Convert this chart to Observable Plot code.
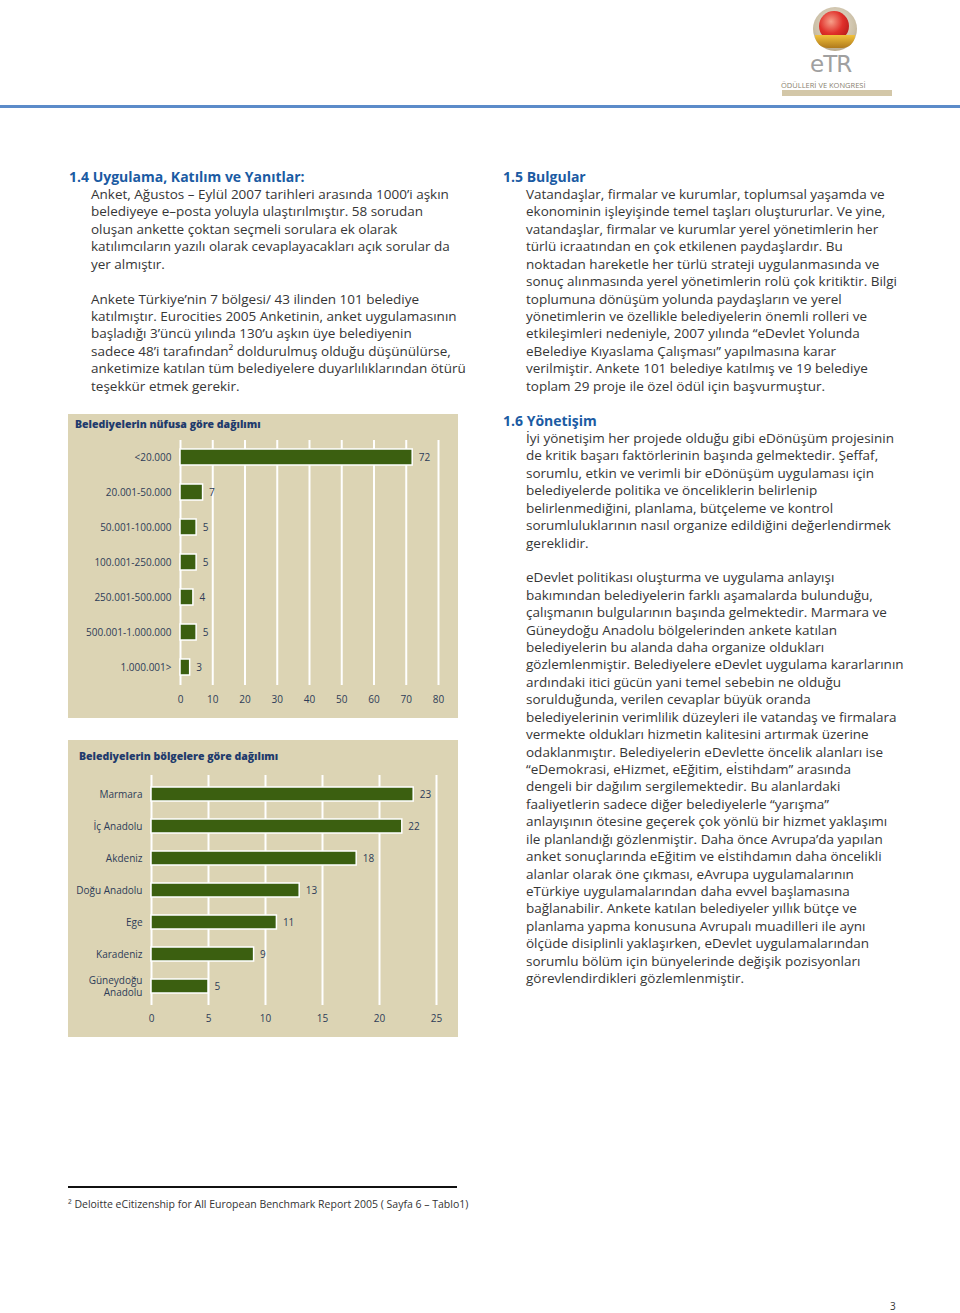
<!DOCTYPE html>
<html><head><meta charset="utf-8">
<script src="https://cdn.jsdelivr.net/npm/d3@7"></script>
<script src="https://cdn.jsdelivr.net/npm/@observablehq/plot@0.6"></script>
<style>
html,body{margin:0;padding:0;background:#fff;}
#page{position:relative;width:960px;height:1313px;overflow:hidden;font-family:"Open Sans",sans-serif;}
.abs{position:absolute;}
.h{color:#1b5ba3;font-weight:700;font-size:14px;white-space:nowrap;line-height:17.43px;}
.b{color:#363636;font-size:13.5px;line-height:17.43px;white-space:nowrap;}
.b div{height:17.43px;}
.panel{position:absolute;background:#dcd4b4;}
.ptitle{position:absolute;color:#1f3b6c;font-weight:800;font-size:10.5px;white-space:nowrap;}
</style></head>
<body><div id="page">
  <!-- logo -->
  <div class="abs" style="left:813px;top:7px;width:44px;height:44px;border-radius:50%;background:radial-gradient(circle at 50% 40%,#ece6da 0%,#cbbfa6 60%,#9c8a68 100%);"></div>
  <div class="abs" style="left:819px;top:11px;width:30px;height:30px;border-radius:50%;background:radial-gradient(circle at 40% 35%,#f7a08a 0%,#e0302a 45%,#a01010 100%);"></div>
  <div class="abs" style="left:815px;top:35px;width:40px;height:13px;border-radius:0 0 20px 20px;background:linear-gradient(#f2c23a,#b07a1c);"></div>
  <div class="abs" style="left:810px;top:53px;font-family:'DejaVu Sans';font-size:23px;color:#a0a0a0;letter-spacing:-1px;line-height:23px;height:23px;">eTR</div>
  <div class="abs" style="left:781px;top:82px;font-size:7.5px;color:#8a7f70;white-space:nowrap;line-height:7.5px;">ÖDÜLLERİ VE KONGRESİ</div>
  <div class="abs" style="left:782px;top:90px;width:110px;height:6px;background:#d3c7a8;"></div>
  <div class="abs" style="left:0;top:105px;width:960px;height:3px;background:#5b8bc9;"></div>

  <!-- left column -->
  <div class="abs h" style="left:69px;top:168px;">1.4 Uygulama, Katılım ve Yanıtlar:</div>
  <div class="abs b" style="left:91px;top:186px;">
    <div>Anket, Ağustos – Eylül 2007 tarihleri arasında 1000’i aşkın</div>
    <div>belediyeye e–posta yoluyla ulaştırılmıştır. 58 sorudan</div>
    <div>oluşan ankette çoktan seçmeli sorulara ek olarak</div>
    <div>katılımcıların yazılı olarak cevaplayacakları açık sorular da</div>
    <div>yer almıştır.</div>
    <div></div>
    <div>Ankete Türkiye’nin 7 bölgesi/ 43 ilinden 101 belediye</div>
    <div>katılmıştır. Eurocities 2005 Anketinin, anket uygulamasının</div>
    <div>başladığı 3’üncü yılında 130’u aşkın üye belediyenin</div>
    <div>sadece 48’i tarafından² doldurulmuş olduğu düşünülürse,</div>
    <div>anketimize katılan tüm belediyelere duyarlılıklarından ötürü</div>
    <div>teşekkür etmek gerekir.</div>
  </div>

  <!-- right column -->
  <div class="abs h" style="left:503px;top:168px;">1.5 Bulgular</div>
  <div class="abs b" style="left:526px;top:186px;">
    <div>Vatandaşlar, firmalar ve kurumlar, toplumsal yaşamda ve</div>
    <div>ekonominin işleyişinde temel taşları oluştururlar. Ve yine,</div>
    <div>vatandaşlar, firmalar ve kurumlar yerel yönetimlerin her</div>
    <div>türlü icraatından en çok etkilenen paydaşlardır. Bu</div>
    <div>noktadan hareketle her türlü strateji uygulanmasında ve</div>
    <div>sonuç alınmasında yerel yönetimlerin rolü çok kritiktir. Bilgi</div>
    <div>toplumuna dönüşüm yolunda paydaşların ve yerel</div>
    <div>yönetimlerin ve özellikle belediyelerin önemli rolleri ve</div>
    <div>etkileşimleri nedeniyle, 2007 yılında “eDevlet Yolunda</div>
    <div>eBelediye Kıyaslama Çalışması” yapılmasına karar</div>
    <div>verilmiştir. Ankete 101 belediye katılmış ve 19 belediye</div>
    <div>toplam 29 proje ile özel ödül için başvurmuştur.</div>
  </div>
  <div class="abs h" style="left:503px;top:412px;">1.6 Yönetişim</div>
  <div class="abs b" style="left:526px;top:430px;">
    <div>İyi yönetişim her projede olduğu gibi eDönüşüm projesinin</div>
    <div>de kritik başarı faktörlerinin başında gelmektedir. Şeffaf,</div>
    <div>sorumlu, etkin ve verimli bir eDönüşüm uygulaması için</div>
    <div>belediyelerde politika ve önceliklerin belirlenip</div>
    <div>belirlenmediğini, planlama, bütçeleme ve kontrol</div>
    <div>sorumluluklarının nasıl organize edildiğini değerlendirmek</div>
    <div>gereklidir.</div>
    <div></div>
    <div>eDevlet politikası oluşturma ve uygulama anlayışı</div>
    <div>bakımından belediyelerin farklı aşamalarda bulunduğu,</div>
    <div>çalışmanın bulgularının başında gelmektedir. Marmara ve</div>
    <div>Güneydoğu Anadolu bölgelerinden ankete katılan</div>
    <div>belediyelerin bu alanda daha organize oldukları</div>
    <div>gözlemlenmiştir. Belediyelere eDevlet uygulama kararlarının</div>
    <div>ardındaki itici gücün yani temel sebebin ne olduğu</div>
    <div>sorulduğunda, verilen cevaplar büyük oranda</div>
    <div>belediyelerinin verimlilik düzeyleri ile vatandaş ve firmalara</div>
    <div>vermekte oldukları hizmetin kalitesini artırmak üzerine</div>
    <div>odaklanmıştır. Belediyelerin eDevlette öncelik alanları ise</div>
    <div>“eDemokrasi, eHizmet, eEğitim, eİstihdam” arasında</div>
    <div>dengeli bir dağılım sergilemektedir. Bu alanlardaki</div>
    <div>faaliyetlerin sadece diğer belediyelerle “yarışma”</div>
    <div>anlayışının ötesine geçerek çok yönlü bir hizmet yaklaşımı</div>
    <div>ile planlandığı gözlenmiştir. Daha önce Avrupa’da yapılan</div>
    <div>anket sonuçlarında eEğitim ve eİstihdamın daha öncelikli</div>
    <div>alanlar olarak öne çıkması, eAvrupa uygulamalarının</div>
    <div>eTürkiye uygulamalarından daha evvel başlamasına</div>
    <div>bağlanabilir. Ankete katılan belediyeler yıllık bütçe ve</div>
    <div>planlama yapma konusuna Avrupalı muadilleri ile aynı</div>
    <div>ölçüde disiplinli yaklaşırken, eDevlet uygulamalarından</div>
    <div>sorumlu bölüm için bünyelerinde değişik pozisyonları</div>
    <div>görevlendirdikleri gözlemlenmiştir.</div>
  </div>

  <!-- charts -->
  <div class="panel" id="p1" style="left:68px;top:414px;width:390px;height:304px;">
    <div class="ptitle" style="left:7px;top:3px;">Belediyelerin nüfusa göre dağılımı</div>
  </div>
  <div class="panel" id="p2" style="left:68px;top:740px;width:390px;height:297px;">
    <div class="ptitle" style="left:11px;top:9px;">Belediyelerin bölgelere göre dağılımı</div>
  </div>

  <!-- footnote -->
  <div class="abs" style="left:68px;top:1186px;width:389px;height:1.5px;background:#111;"></div>
  <div class="abs" style="left:68px;top:1197px;font-size:10.5px;color:#333;white-space:nowrap;">² Deloitte eCitizenship for All European Benchmark Report 2005 ( Sayfa 6 – Tablo1)</div>
  <div class="abs" style="left:890px;top:1299px;font-size:10px;color:#333;">3</div>
</div>
<script>
const popCats = ["<20.000","20.001-50.000","50.001-100.000","100.001-250.000","250.001-500.000","500.001-1.000.000","1.000.001>"];
const popVals = [72,7,5,5,4,5,3];
const popTicks = [0,10,20,30,40,50,60,70,80];

const regCats = ["Marmara","İç Anadolu","Akdeniz","Doğu Anadolu","Ege","Karadeniz","Güneydoğu\nAnadolu"];
const regVals = [23,22,18,13,11,9,5];
const regTicks = [0,5,10,15,20,25];

const barColor = "#3b5f10";
const labelColor = "#2e3c58";

function chart(cats, vals, ticks, opt) {
  const data = cats.map((c, i) => ({c, v: vals[i]}));
  return Plot.plot({
    width: 390, height: opt.height,
    marginLeft: opt.ml, marginRight: opt.mr, marginTop: opt.mt, marginBottom: opt.mb,
    style: {background: "transparent", fontFamily: "Open Sans", fontSize: "10px", color: labelColor, overflow: "visible"},
    x: {domain: [0, ticks[ticks.length - 1]], ticks: ticks, tickSize: 0, tickPadding: opt.tpx, label: null},
    y: {domain: cats, paddingInner: opt.pi, paddingOuter: opt.pi / 2, axis: null, label: null},
    marks: [
      Plot.ruleX(ticks, {stroke: "#ffffff", strokeWidth: 2}),
      Plot.barX(data, {x: "v", y: "c", fill: barColor, stroke: "#ffffff", strokeWidth: 1.5}),
      Plot.text(data, {x: "v", y: "c", text: d => String(d.v), textAnchor: "start", dx: 6, fill: labelColor, fontSize: 10}),
      Plot.text(data, {x: 0, y: "c", text: "c", textAnchor: "end", dx: -9, fill: labelColor, fontSize: 10, lineHeight: 1.2})
    ]
  });
}

const c1 = chart(popCats, popVals, popTicks, {height: 304, ml: 112, mr: 20, mt: 26, mb: 33, pi: 0.54, tpx: 10});
c1.style.position = "absolute"; c1.style.left = "0px"; c1.style.top = "0px";
document.getElementById("p1").appendChild(c1);

const c2 = chart(regCats, regVals, regTicks, {height: 297, ml: 83, mr: 22, mt: 35, mb: 32, pi: 0.57, tpx: 9});
c2.style.position = "absolute"; c2.style.left = "0px"; c2.style.top = "0px";
document.getElementById("p2").appendChild(c2);
</script>
</body></html>
